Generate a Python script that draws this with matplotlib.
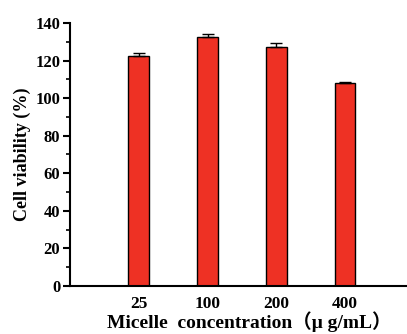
import numpy as np
import matplotlib
matplotlib.use("Agg")
import matplotlib.pyplot as plt
from matplotlib.ticker import MultipleLocator

# data
concentrations = ["25", "100", "200", "400"]
viability = [122.5, 132.6, 127.5, 107.9]
errors = [1.8, 1.3, 1.8, 0.5]

plt.rcParams['font.family'] = ['Liberation Serif', 'Noto Sans CJK SC']
plt.rcParams['font.weight'] = 'bold'

fig = plt.figure(figsize=(4.07, 3.34), dpi=100)
ax = fig.add_axes([0.172, 0.144, 0.828, 0.787])

x = np.arange(1, len(concentrations) + 1)
# only the upper half of the error bar is visible
ax.bar(x, viability, width=0.3, color='#ee3124', edgecolor='black', linewidth=1.0,
       yerr=[np.zeros(len(errors)), errors],
       error_kw=dict(ecolor='black', elinewidth=1.0, capsize=4, capthick=1.0))

ax.set_xlim(0, 4.9)
ax.set_ylim(0, 140)
ax.yaxis.set_major_locator(MultipleLocator(20))
ax.yaxis.set_minor_locator(MultipleLocator(10))
ax.set_xticks(x)
ax.set_xticklabels(concentrations)

for s in ['top', 'right']:
    ax.spines[s].set_visible(False)
for s in ['left', 'bottom']:
    ax.spines[s].set_linewidth(1.5)

ax.tick_params(axis='y', which='major', direction='out', length=5, width=1.5, labelsize=12, pad=2)
ax.tick_params(axis='y', which='minor', direction='out', length=3, width=1.2)
ax.tick_params(axis='x', length=0, pad=7, labelsize=12.5)
for lab in ax.get_xticklabels() + ax.get_yticklabels():
    lab.set_fontweight('bold')

ax.set_ylabel("Cell viability (%)", fontsize=13, fontweight='bold', labelpad=3)
ax.set_xlabel("Micelle  concentration（μ g/mL）", fontsize=14, fontweight='bold', labelpad=0)
ax.xaxis.set_label_coords(0.532, -0.137)
ax.xaxis.label.set_va('center')

fig.savefig("out.png", dpi=100)
